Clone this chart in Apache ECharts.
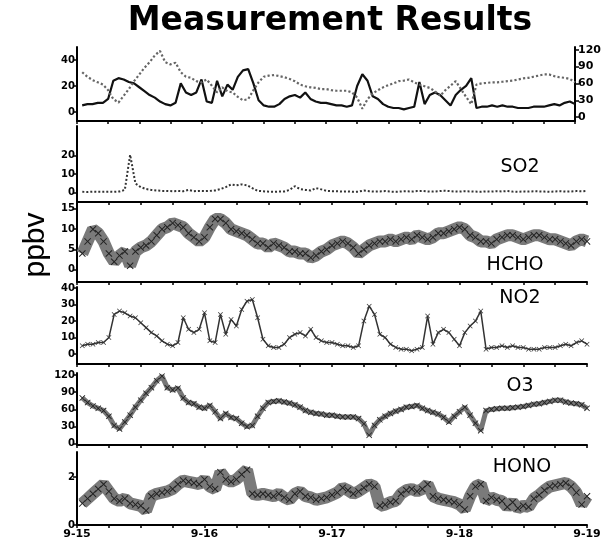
<!DOCTYPE html>
<html><head><meta charset="utf-8">
<script src="https://cdn.jsdelivr.net/npm/echarts@6/dist/echarts.min.js"></script>
<style>html,body{margin:0;padding:0;background:#fff}#c{width:604px;height:543px}</style>
</head><body><div id="c"></div>
<script>
const titleText = 'Measurement Results';
const unitText = 'ppbv';
const hours = [1,2,3,4,5,6,7,8,9,10,11,12,13,14,15,16,17,18,19,20,21,22,23,24,25,26,27,28,29,30,31,32,33,34,35,36,37,38,39,40,41,42,43,44,45,46,47,48,49,50,51,52,53,54,55,56,57,58,59,60,61,62,63,64,65,66,67,68,69,70,71,72,73,74,75,76,77,78,79,80,81,82,83,84,85,86,87,88,89,90,91,92,93,94,95,96];
const dayLabels = ['9-15','9-16','9-17','9-18','9-19'];
const dayTicks = [0,24,48,72,96];
const no2 = [5,6,6,7,7,10,24,26,25,23, 22,19,16,13,11,8,6,5,7,22, 15,13,15,25,8,7,24,12,21,17, 27,32,33,22,9,5,4,4,6,10, 12,13,11,15,10,8,7,7,6,5, 5,4,5,20,29,24,12,10,6,4, 3,3,2,3,4,23,6,13,15,13, 9,5,13,17,20,26,3,4,4,5, 4,5,4,4,3,3,3,4,4,4, 5,6,5,7,8,6];
const o3 = [80,72,66,62,58,48,32,26,38,50, 64,76,88,98,110,118,98,94,97,80, 72,70,64,62,67,56,44,53,46,44, 36,30,32,48,62,72,74,75,73,71, 68,64,58,55,53,52,50,50,48,47, 47,47,44,35,15,32,42,48,53,57, 60,64,65,67,62,58,55,52,46,38, 48,56,64,50,36,23,58,60,61,62, 62,63,64,65,67,69,70,72,74,76, 76,73,71,70,68,62];
const so2 = [0.5,0.4,0.6,0.5,0.5,0.6,0.5,0.7,1.5,20.5, 5,3,2,1.5,1.2,1,1,0.8,1,0.8, 1.5,0.8,1,0.9,1,1.2,2,3,4.5,4, 4.5,4,2.5,1,0.8,0.6,0.5,0.6,0.7,1.5, 3.5,2,1.5,1.2,2.5,1.8,1,0.8,0.8,0.6, 0.7,0.5,0.6,1.2,0.8,0.6,0.7,0.9,0.6,0.5, 0.7,0.8,0.6,0.9,1.0,0.7,0.6,0.8,1.1,0.9, 0.7,0.6,0.8,0.7,0.6,0.5,0.7,0.6,0.8,0.7, 0.9,0.6,0.5,0.7,0.6,0.8,0.7,0.6,0.5,0.7, 0.8,0.6,0.7,0.9,0.8,1.0];
const hcho = [4,7,10,9,7,4,2,3.5,4.5,1, 4.5,5.5,6,7,8.5,10,10.5,11.5,11,10.5, 9,8,7,8,10.5,12.5,12.5,11.5,10,9.5, 9,8.5,7.5,6.5,6.5,5.5,6.5,6,5.5,4.5, 4.5,4,4,3,3.5,4.5,5,6,6.5,7, 6.5,5.5,4,5,6,6.5,7,7,7.5,7, 7.5,8,7.5,8.5,8,7.5,8,9,9,9.5, 10,10.5,10,8.5,8,7,7,6.5,7.5,8, 8.5,8.5,8,7.5,8,8.5,8.5,8,7.5,7.5, 7,6.5,6,7,7.5,7];
const hono = [0.9,1.1,1.3,1.5,1.7,1.4,1.1,1.0,1.1,0.9, 0.85,0.8,0.6,1.2,1.3,1.35,1.4,1.5,1.7,1.85, 1.8,1.75,1.7,1.9,1.6,1.5,2.2,1.9,1.8,1.9, 2.1,2.3,1.3,1.25,1.3,1.25,1.2,1.3,1.15,1.05, 1.3,1.4,1.2,1.15,1.05,1.1,1.15,1.25,1.35,1.55, 1.45,1.3,1.4,1.55,1.7,1.6,0.8,0.85,0.95,1.0, 1.3,1.45,1.5,1.4,1.5,1.7,1.2,1.1,1.05,1.0, 0.95,0.85,0.65,1.2,1.6,1.7,1.0,1.15,1.05,1.0, 0.75,0.95,0.7,0.8,0.75,1.1,1.25,1.45,1.6,1.65, 1.7,1.75,1.6,1.35,0.85,1.2];
const panelNames = ['SO2','HCHO','NO2','O3','HONO'];
const ticksP1Left = [0,20,40];
const ticksP1Right = [0,30,60,90,120];
const ticksSO2 = [0,10,20];
const ticksHCHO = [0,5,10,15];
const ticksNO2 = [0,10,20,30,40];
const ticksO3 = [0,30,60,90,120];
const ticksHONO = [0,2];

function pairs(v){ return hours.map((h,i)=>[h,v[i]]); }
const cross = 'path://M0,1L1,0L5,4L9,0L10,1L6,5L10,9L9,10L5,6L1,10L0,9L4,5Z';
const tickFont = {color:'#000', fontFamily:'DejaVu Sans', fontWeight:'bold', fontSize:10};

const gridDefs = [[47,74],[126,76],[202,80],[287,77],[373,72],[452,73]];
const grids = gridDefs.map(g=>({left:77, right:17, top:g[0], height:g[1]}));

const xAxes = gridDefs.map((g,i)=>({
  type:'value', gridIndex:i, min:0, max:96, interval:6,
  axisLine:{show:true, onZero:false, lineStyle:{color:'#000', width:2}},
  axisTick:{show:true, length:3, lineStyle:{color:'#000', width:1.5}},
  axisLabel: i===5 ? Object.assign({show:true, margin:4, customValues:dayTicks,
      formatter:v=>dayLabels[dayTicks.indexOf(v)] || ''}, tickFont, {fontSize:11}) : {show:false},
  splitLine:{show:false}
}));

function yAx(grid, min, max, ticks, pos){
  return {
    type:'value', gridIndex:grid, min:min, max:max, position:pos||'left',
    axisLine:{show:true, onZero:false, lineStyle:{color:'#000', width:2}},
    axisTick:{show:true, length:4, customValues:ticks, lineStyle:{color:'#000', width:1.5}},
    axisLabel:Object.assign({show:true, margin:pos==='right'?3:2, customValues:ticks}, tickFont, pos==='right'?{fontSize:11}:{}),
    splitLine:{show:false}
  };
}
const yAxes = [
  yAx(0,-7,50,ticksP1Left),
  yAx(0,-7,125,ticksP1Right,'right'),
  yAx(1,-5,36,ticksSO2),
  yAx(2,-3,16.7,ticksHCHO),
  yAx(3,-6,40.6,ticksNO2),
  yAx(4,-2,123.5,ticksO3),
  yAx(5,0,3.04,ticksHONO)
];

const series = [
  {type:'line', xAxisIndex:0, yAxisIndex:0, data:pairs(no2), showSymbol:false, lineStyle:{color:'#111', width:2.2}},
  {type:'line', xAxisIndex:0, yAxisIndex:1, data:pairs(o3), showSymbol:false, lineStyle:{color:'#666', width:2.2, type:'dotted'}},
  {type:'line', xAxisIndex:1, yAxisIndex:2, data:pairs(so2), showSymbol:false, lineStyle:{color:'#333', width:2, type:'dotted'}},
  {type:'line', xAxisIndex:2, yAxisIndex:3, data:pairs(hcho), symbol:cross, symbolSize:7, showAllSymbol:true,
    itemStyle:{color:'#222'}, lineStyle:{color:'#7a7a7a', width:12}},
  {type:'line', xAxisIndex:3, yAxisIndex:4, data:pairs(no2), symbol:cross, symbolSize:5, showAllSymbol:true,
    itemStyle:{color:'#333'}, lineStyle:{color:'#333', width:1.5}},
  {type:'line', xAxisIndex:4, yAxisIndex:5, data:pairs(o3), symbol:cross, symbolSize:6, showAllSymbol:true,
    itemStyle:{color:'#222'}, lineStyle:{color:'#777', width:5}},
  {type:'line', xAxisIndex:5, yAxisIndex:6, data:pairs(hono), symbol:cross, symbolSize:7, showAllSymbol:true,
    itemStyle:{color:'#222'}, lineStyle:{color:'#7a7a7a', width:12}}
];

const labelPos = [[520,167],[515,265],[520,298],[520,386],[522,467]];
const graphic = [
  {type:'text', x:330, y:21, style:{text:titleText, fill:'#000', font:'bold 33px "DejaVu Sans"', textAlign:'center', textVerticalAlign:'middle'}},
  {type:'text', x:36, y:245, rotation:Math.PI/2, style:{text:unitText, fill:'#000', font:'30px "Liberation Sans"', textAlign:'center', textVerticalAlign:'middle'}}
].concat(panelNames.map((n,i)=>({type:'text', x:labelPos[i][0], y:labelPos[i][1],
  style:{text:n, fill:'#000', font:'19px "DejaVu Sans"', textAlign:'center', textVerticalAlign:'middle'}})));

const chart = echarts.init(document.getElementById('c'), null, {renderer:'canvas'});
chart.setOption({
  animation:false, backgroundColor:'#fff',
  grid:grids, xAxis:xAxes, yAxis:yAxes, series:series, graphic:graphic
});
</script></body></html>
